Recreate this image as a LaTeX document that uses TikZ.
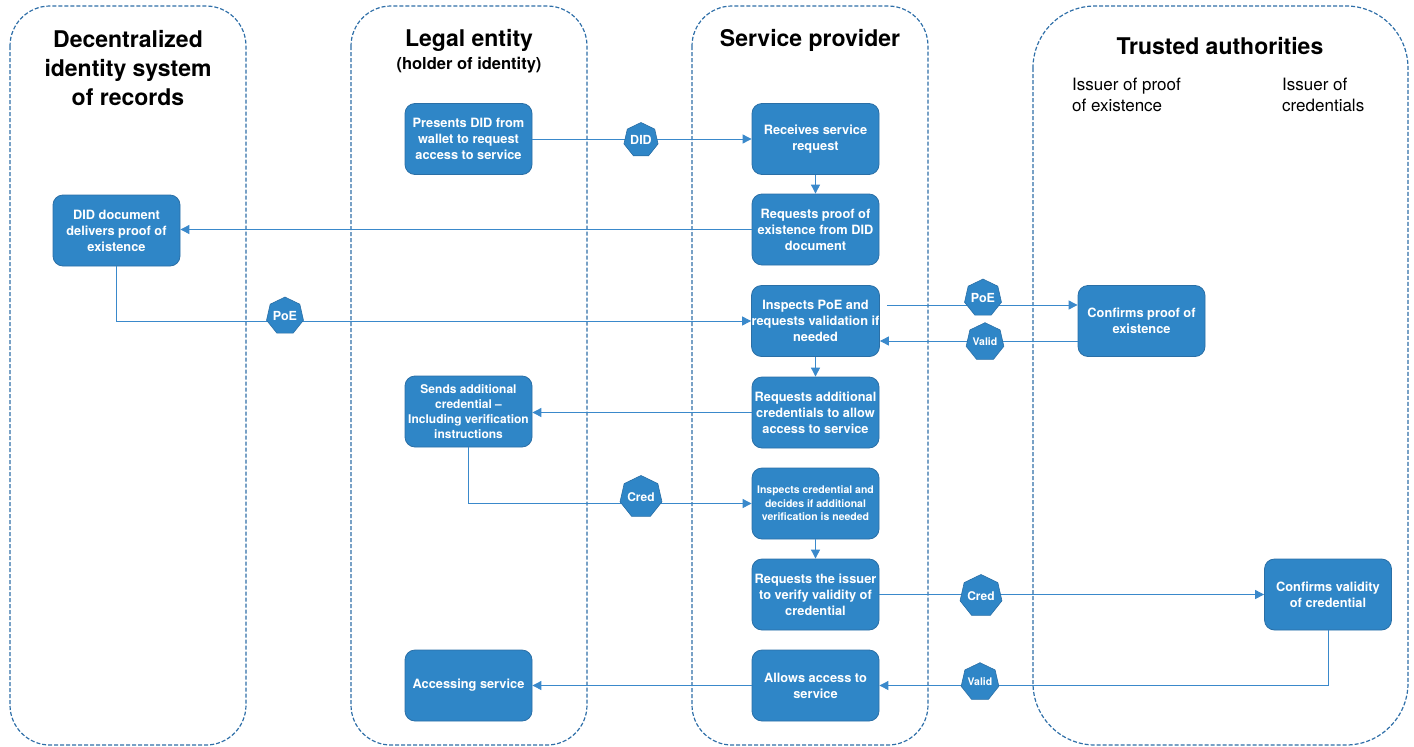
\documentclass[tikz,border=0pt]{standalone}
\usepackage{fontspec}
\setmainfont{TeX Gyre Heros}
\usetikzlibrary{shapes.geometric,arrows.meta}

\definecolor{boxblue}{HTML}{2F86C7}
\definecolor{boxedge}{HTML}{2A6FA6}
\definecolor{flowline}{HTML}{3A89CB}
\definecolor{laneedge}{HTML}{2F6FA8}

\tikzset{
  lane/.style={draw=laneedge, line width=1.2pt, dash pattern=on 4pt off 2pt},
  lanetitle/.style={align=center, text=black, inner sep=0pt,
    font=\fontsize{23}{29}\selectfont\bfseries},
  lanesub/.style={align=center, text=black, inner sep=0pt,
    font=\fontsize{16.5}{20}\selectfont\bfseries},
  issuer/.style={align=left, text=black, inner sep=0pt, anchor=west,
    font=\fontsize{17}{21}\selectfont},
  stepbox/.style={draw=boxedge, line width=0.8pt, fill=boxblue, rounded corners=10pt,
    minimum width=127pt, minimum height=71pt, inner sep=0pt, align=center,
    text=white, font=\fontsize{12.8}{16}\selectfont\bfseries},
  smallbox/.style={stepbox, font=\fontsize{10.5}{13.5}\selectfont\bfseries},
  badge/.style={regular polygon, regular polygon sides=7, minimum size=35pt,
    inner sep=0pt, fill=boxblue, draw=boxedge, line width=0.6pt, text=white,
    font=\fontsize{12.5}{14}\selectfont\bfseries},
  smallbadge/.style={badge, font=\fontsize{10.5}{12}\selectfont\bfseries},
  flow/.style={draw=flowline, line width=0.9pt, -{Triangle[length=9pt,width=9pt]}},
}

\begin{document}
\begin{tikzpicture}[x=1pt,y=-1pt]
\useasboundingbox (0,0) rectangle (1414,747);

% swim lanes
\draw[lane, rounded corners=40pt] (10,6) rectangle (246,745);
\draw[lane, rounded corners=40pt] (351,6) rectangle (587,745);
\draw[lane, rounded corners=40pt] (692,6) rectangle (928,745);
\draw[lane, rounded corners=62pt] (1033,6) rectangle (1408,745);

% lane headings
\node[lanetitle] (t1) at (128,68) {Decentralized\\identity system\\of records};
\node[lanetitle] (t2) at (469,40) {Legal entity};
\node[lanesub]   (t2s) at (469,65) {(holder of identity)};
\node[lanetitle] (t3) at (810,40) {Service provider};
\node[lanetitle] (t4) at (1220,46) {Trusted authorities};
\node[issuer] (i1) at (1072,94.5) {Issuer of proof\\of existence};
\node[issuer] (i2) at (1282,94.5) {Issuer of\\credentials};

% steps
\node[stepbox] (P1) at (468.5,139) {Presents DID from\\wallet to request\\access to service};
\node[stepbox] (S1) at (815.5,139) {Receives service\\request};
\node[stepbox] (S2) at (815.5,229.5) {Requests proof of\\existence from DID\\document};
\node[stepbox] (D1) at (116.5,230.5) {DID document\\delivers proof of\\existence};
\node[stepbox] (S3) at (815.5,321) {Inspects PoE and\\requests validation if\\needed};
\node[stepbox] (T1) at (1141.5,321) {Confirms proof of\\existence};
\node[stepbox] (S4) at (815.5,412.5) {Requests additional\\credentials to allow\\access to service};
\node[stepbox, font=\fontsize{12}{15}\selectfont\bfseries] (L2) at (468.5,411.5)
  {Sends additional\\credential --\\Including verification\\instructions};
\node[smallbox] (S5) at (815.5,503.5) {Inspects credential and\\decides if additional\\verification is needed};
\node[stepbox] (S6) at (815.5,594.5) {Requests the issuer\\to verify validity of\\credential};
\node[stepbox] (T2) at (1328,594.5) {Confirms validity\\of credential};
\node[stepbox] (S7) at (815.5,685.5) {Allows access to\\service};
\node[stepbox] (L3) at (468.5,685.5) {Accessing service};

% message flow
\draw[flow] (P1.east) -- (S1.west);
\draw[flow] (S1.south) -- (S2.north);
\draw[flow] (S2.west) -- (S2.west -| D1.east);
\draw[flow] (D1.south) |- (S3.west);
\draw[flow] ([xshift=7pt,yshift=16pt]S3.east) -- ([yshift=16pt]T1.west);
\draw[flow] ([yshift=-20pt]T1.west) -- ([yshift=-20pt]S3.east);
\draw[flow] (S3.south) -- (S4.north);
\draw[flow] (S4.west) -- (S4.west -| L2.east);
\draw[flow] (L2.south) |- (S5.west);
\draw[flow] (S5.south) -- (S6.north);
\draw[flow] (S6.east) -- (T2.west);
\draw[flow] (T2.south) |- (S7.east);
\draw[flow] (S7.west) -- (L3.east);

% tokens carried by the messages
\node[badge] (bDID) at (641,140) {DID};
\node[badge] (bPoE1) at (285,316) {PoE};
\node[badge] (bPoE2) at (983,298) {PoE};
\node[smallbadge] (bVal1) at (985,342) {Valid};
\node[badge, font=\fontsize{12}{14}\selectfont\bfseries] (bCred1) at (641,497) {Cred};
\node[badge, font=\fontsize{12}{14}\selectfont\bfseries] (bCred2) at (981,596) {Cred};
\node[smallbadge] (bVal2) at (980,682) {Valid};
\end{tikzpicture}
\end{document}
